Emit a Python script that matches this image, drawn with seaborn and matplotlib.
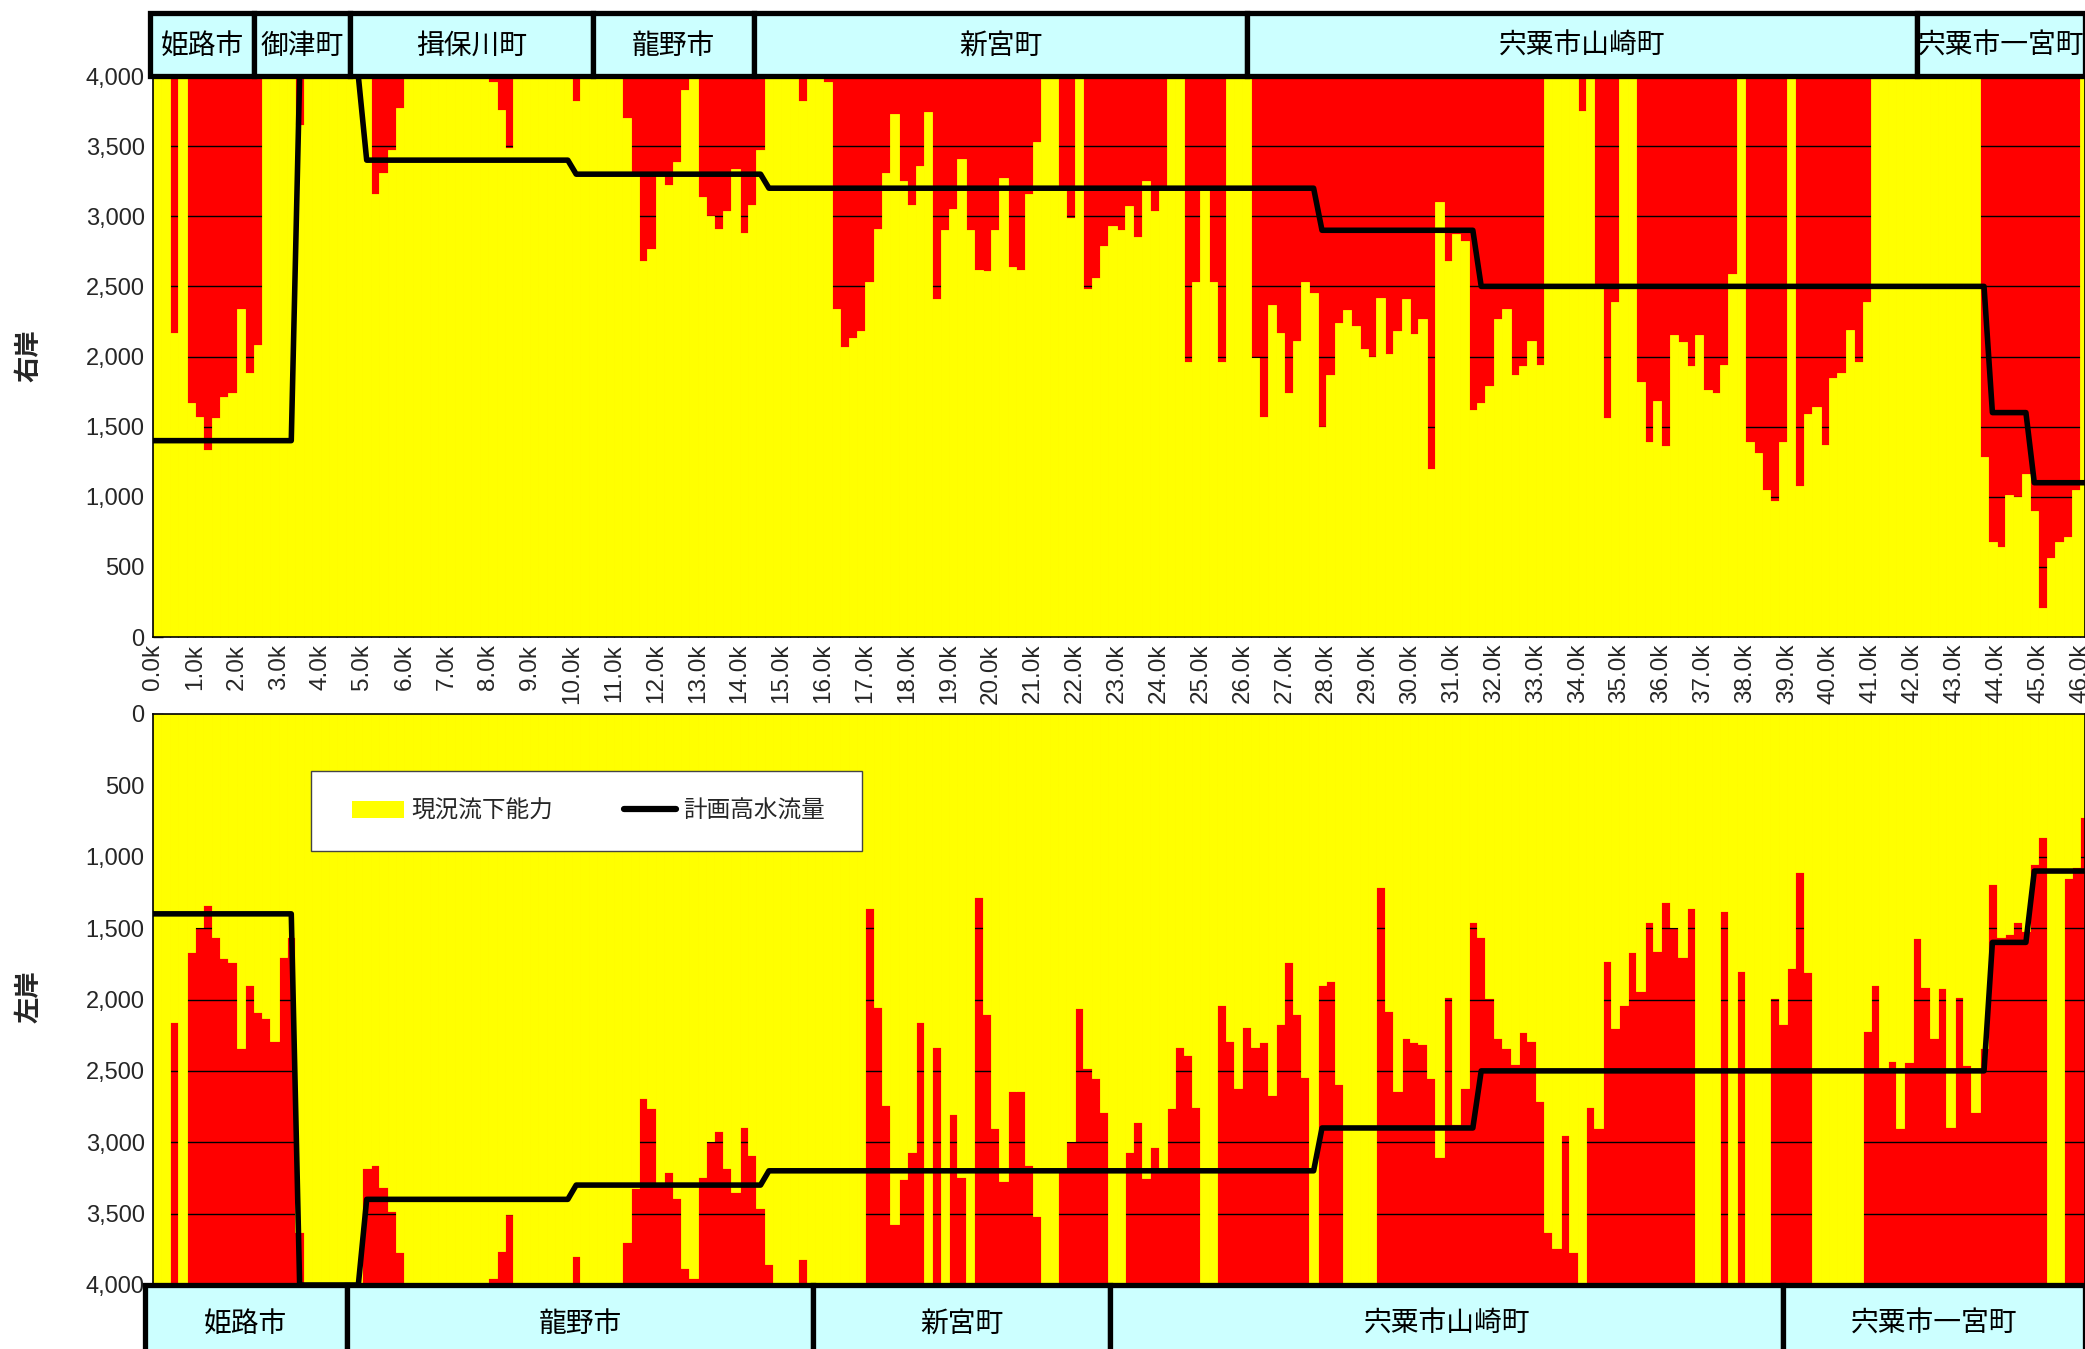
import numpy as np
import pandas as pd
import matplotlib
matplotlib.use("Agg")
import matplotlib.pyplot as plt
import matplotlib.transforms as mtrans
from matplotlib.patches import Rectangle, Patch
from matplotlib.lines import Line2D
from matplotlib.ticker import MultipleLocator, FuncFormatter
import seaborn as sns

# ---------------------------------------------------------------- data
# distance posts along the river (k), one every 0.2 km from 0.0k
stations_km = np.round(np.arange(231) * 0.2, 1)

# current flow capacity (m3/s), right bank
right_bank = [
    4000, 4000, 2170, 4000, 1670, 1570, 1330, 1560, 1710, 1740,   # 0.0k-
    2340, 1880, 2080, 4000, 4000, 4000, 4000, 3650, 4000, 4000,   # 2.0k-
    4000, 4000, 4000, 4000, 4000, 4000, 3160, 3310, 3470, 3770,   # 4.0k-
    4000, 4000, 4000, 4000, 4000, 4000, 4000, 4000, 4000, 4000,   # 6.0k-
    3960, 3760, 3490, 4000, 4000, 4000, 4000, 4000, 4000, 4000,   # 8.0k-
    3820, 4000, 4000, 4000, 4000, 4000, 3700, 3290, 2680, 2770,   # 10.0k-
    3300, 3220, 3390, 3900, 4000, 3140, 3000, 2910, 3040, 3340,   # 12.0k-
    2880, 3080, 3470, 4000, 4000, 4000, 4000, 3820, 4000, 4000,   # 14.0k-
    3960, 2340, 2070, 2130, 2180, 2530, 2910, 3310, 3730, 3250,   # 16.0k-
    3080, 3360, 3740, 2410, 2900, 3050, 3410, 2900, 2620, 2610,   # 18.0k-
    2900, 3270, 2640, 2620, 3160, 3530, 4000, 4000, 3210, 2990,   # 20.0k-
    4000, 2480, 2560, 2790, 2930, 2900, 3070, 2850, 3250, 3040,   # 22.0k-
    3200, 4000, 4000, 1960, 2530, 3190, 2530, 1960, 4000, 4000,   # 24.0k-
    4000, 1990, 1570, 2370, 2170, 1740, 2110, 2530, 2450, 1500,   # 26.0k-
    1870, 2240, 2330, 2220, 2050, 2000, 2420, 2020, 2180, 2410,   # 28.0k-
    2160, 2270, 1200, 3100, 2680, 2870, 2820, 1620, 1670, 1790,   # 30.0k-
    2270, 2340, 1870, 1930, 2110, 1940, 4000, 4000, 4000, 4000,   # 32.0k-
    3750, 4000, 2490, 1560, 2390, 4000, 4000, 1820, 1390, 1680,   # 34.0k-
    1360, 2150, 2100, 1930, 2150, 1760, 1740, 1940, 2590, 4000,   # 36.0k-
    1390, 1310, 1050, 970, 1390, 4000, 1080, 1590, 1640, 1370,    # 38.0k-
    1850, 1880, 2190, 1960, 2390, 4000, 4000, 4000, 4000, 4000,   # 40.0k-
    4000, 4000, 4000, 4000, 4000, 4000, 4000, 4000, 1280, 680,    # 42.0k-
    640, 1010, 1000, 1160, 900, 210, 560, 680, 710, 1050,         # 44.0k-
    4000,                                                         # 46.0k
]

# current flow capacity (m3/s), left bank
left_bank = [
    4000, 4000, 2160, 4000, 1670, 1490, 1340, 1560, 1710, 1740,   # 0.0k-
    2340, 1900, 2090, 2130, 2290, 1700, 1560, 3630, 4000, 4000,   # 2.0k-
    4000, 4000, 4000, 4000, 4000, 3180, 3160, 3310, 3480, 3770,   # 4.0k-
    4000, 4000, 4000, 4000, 4000, 4000, 4000, 4000, 4000, 4000,   # 6.0k-
    3950, 3760, 3500, 4000, 4000, 4000, 4000, 4000, 4000, 4000,   # 8.0k-
    3800, 4000, 4000, 4000, 4000, 4000, 3700, 3320, 2690, 2760,   # 10.0k-
    3300, 3210, 3390, 3880, 3950, 3240, 2990, 2920, 3180, 3350,   # 12.0k-
    2890, 3090, 3460, 3850, 4000, 4000, 4000, 3820, 4000, 4000,   # 14.0k-
    4000, 4000, 4000, 4000, 4000, 1360, 2050, 2740, 3570, 3260,   # 16.0k-
    3070, 2160, 4000, 2330, 4000, 2800, 3240, 4000, 1280, 2100,   # 18.0k-
    2900, 3270, 2640, 2640, 3160, 3520, 4000, 4000, 3210, 2990,   # 20.0k-
    2060, 2480, 2550, 2790, 4000, 4000, 3070, 2860, 3250, 3030,   # 22.0k-
    3190, 2760, 2330, 2390, 2750, 4000, 4000, 2040, 2290, 2620,   # 24.0k-
    2190, 2330, 2300, 2670, 2170, 1740, 2100, 2540, 4000, 1900,   # 26.0k-
    1870, 2590, 4000, 4000, 4000, 4000, 1210, 2080, 2640, 2270,   # 28.0k-
    2300, 2310, 2550, 3100, 1980, 2870, 2620, 1460, 1560, 1990,   # 30.0k-
    2270, 2340, 2450, 2230, 2290, 2710, 3630, 3740, 2950, 3770,   # 32.0k-
    4000, 2750, 2900, 1730, 2200, 2040, 1670, 1940, 1460, 1660,   # 34.0k-
    1320, 1490, 1700, 1360, 4000, 4000, 4000, 1380, 4000, 1800,   # 36.0k-
    4000, 4000, 4000, 1990, 2170, 1780, 1110, 1810, 4000, 4000,   # 38.0k-
    4000, 4000, 4000, 4000, 2220, 1900, 2490, 2430, 2900, 2440,   # 40.0k-
    1570, 1910, 2270, 1920, 2890, 1980, 2460, 2790, 2340, 1190,   # 42.0k-
    1560, 1540, 1460, 1520, 1050, 860, 4000, 4000, 1150, 1070,    # 44.0k-
    720,                                                          # 46.0k
]

# planned high-water discharge (m3/s): vertices of the design-flow line
plan_km = [0.0, 3.3, 3.5, 4.9, 5.1, 9.9, 10.1, 14.5, 14.7, 27.7, 27.9,
           31.5, 31.7, 43.7, 43.9, 44.7, 44.9, 46.11]
plan_q = [1400, 1400, 4000, 4000, 3400, 3400, 3300, 3300, 3200, 3200, 2900,
          2900, 2500, 2500, 1600, 1600, 1100, 1100]

# municipalities along each bank and their boundaries (k)
right_towns = ["姫路市", "御津町", "揖保川町", "龍野市", "新宮町", "宍粟市山崎町", "宍粟市一宮町"]
right_bounds = [-0.06, 2.4, 4.7, 10.5, 14.35, 26.1, 42.1, 46.11]
left_towns = ["姫路市", "龍野市", "新宮町", "宍粟市山崎町", "宍粟市一宮町"]
left_bounds = [-0.2, 4.62, 15.76, 22.85, 38.9, 46.11]

legend_labels = ["現況流下能力", "計画高水流量"]
bank_labels = ["右岸", "左岸"]

# ---------------------------------------------------------------- style
YELLOW = "#FFFF00"
RED = "#FF0000"
HEADER = "#CCFFFF"
CJK = ["Noto Sans CJK JP", "DejaVu Sans"]

sns.set_theme(style="white")
plt.rcParams["font.family"] = ["Liberation Sans", "Noto Sans CJK JP"]

W, H = 2085, 1349
fig = plt.figure(figsize=(W / 100, H / 100), dpi=100)
fig.patch.set_facecolor("white")

ax_top = fig.add_axes([153 / W, 1 - 637 / H, 1 - 153 / W, (637 - 76) / H])
ax_bot = fig.add_axes([153 / W, 1 - 1285 / H, 1 - 153 / W, (1285 - 714) / H])

XMAX = 46.11


def draw_bank(ax, values):
    ax.set_facecolor(RED)
    df = pd.DataFrame({"km": stations_km + 0.1, "q": values})
    sns.barplot(data=df, x="km", y="q", orient="x", native_scale=True,
                width=1.0, color=YELLOW, saturation=1, errorbar=None,
                linewidth=0.6, edgecolor=YELLOW, ax=ax)
    sns.lineplot(x=plan_km, y=plan_q, color="black", linewidth=4.0,
                 estimator=None, ax=ax, zorder=5)
    ax.set_xlim(0, XMAX)
    ax.set_xlabel("")
    ax.set_ylabel("")
    ax.set_axisbelow(True)
    ax.yaxis.grid(True, color="black", linewidth=1.0)
    ax.xaxis.grid(False)
    ax.yaxis.set_major_locator(MultipleLocator(500))
    ax.yaxis.set_minor_locator(MultipleLocator(100))
    ax.yaxis.set_major_formatter(FuncFormatter(lambda v, p: f"{int(v):,}"))
    ax.xaxis.set_major_locator(MultipleLocator(1))
    ax.xaxis.set_minor_locator(MultipleLocator(0.2))
    ax.tick_params(axis="y", which="major", direction="in", length=7,
                   width=1.0, labelsize=17, pad=6, left=True)
    ax.tick_params(axis="y", which="minor", direction="in", length=4,
                   width=0.9, left=True)
    ax.tick_params(axis="x", which="both", direction="in", length=3.5, width=0.9)
    for s in ax.spines.values():
        s.set_color("black")
        s.set_linewidth(1.2)


draw_bank(ax_top, right_bank)
ax_top.set_ylim(0, 4000)
ax_top.tick_params(axis="x", which="both", bottom=True, top=False)
ax_top.xaxis.set_major_formatter(FuncFormatter(lambda v, p: f"{v:.1f}k"))
ax_top.tick_params(axis="x", which="major", labelsize=17.5, pad=5, labelrotation=90)

draw_bank(ax_bot, left_bank)
ax_bot.set_ylim(4000, 0)
ax_bot.xaxis.tick_top()
ax_bot.tick_params(axis="x", which="both", top=True, bottom=False,
                   labeltop=False, labelbottom=False)


# municipality header strips
def header(ax, towns, bounds, y0, y1, ytext):
    tr = mtrans.blended_transform_factory(ax.transData, fig.transFigure)
    for name, a, b in zip(towns, bounds[:-1], bounds[1:]):
        fig.add_artist(Rectangle((a, y0), b - a, y1 - y0, transform=tr,
                                 facecolor=HEADER, edgecolor="black",
                                 linewidth=3.8, clip_on=False, zorder=10))
        fig.text((a + min(b, XMAX)) / 2, ytext, name, transform=tr,
                 ha="center", va="center", fontsize=20, family=CJK,
                 color="black", zorder=11)


header(ax_top, right_towns, right_bounds, 1 - 76 / H, 1 - 13 / H, 1 - 46 / H)
header(ax_bot, left_towns, left_bounds, -0.05, 1 - 1285 / H, 1 - 1324 / H)

# bank labels
fig.text(29 / W, 1 - 356 / H, bank_labels[0], rotation=90, ha="center",
         va="center", fontsize=19, family=CJK, fontweight="bold")
fig.text(29 / W, 1 - 997 / H, bank_labels[1], rotation=90, ha="center",
         va="center", fontsize=19, family=CJK, fontweight="bold")

# legend: hand-placed frame with the entries centred inside it
fig.add_artist(Rectangle((311 / W, 1 - 851 / H), (862 - 311) / W, 80 / H,
                         transform=fig.transFigure, facecolor="white",
                         edgecolor="#444444", linewidth=1.0, zorder=19))
handles = [Patch(facecolor=YELLOW, edgecolor="none"),
           Line2D([], [], color="black", linewidth=4.5)]
leg = ax_bot.legend(handles, legend_labels, ncol=2, loc="center left",
                    bbox_to_anchor=(352 / W, 1 - 811 / H),
                    bbox_transform=fig.transFigure, frameon=False,
                    prop={"family": CJK, "size": 17},
                    borderpad=0, handlelength=2.2, handletextpad=0.3,
                    columnspacing=3.0, borderaxespad=0)
leg.set_zorder(20)
fig.add_artist(leg)

fig.savefig("out.png", dpi=100)
